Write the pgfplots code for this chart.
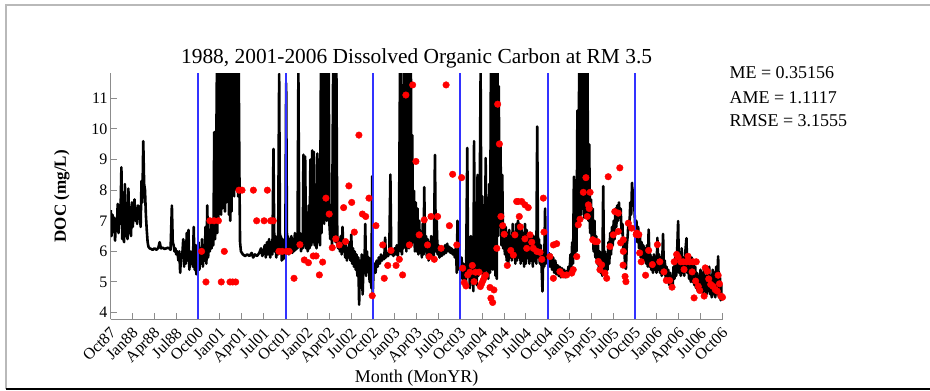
\documentclass[border=0pt]{standalone}
\usepackage{fontspec}
\setmainfont{Liberation Serif}
\usepackage{pgfplots}
\usepackage{pgfplotstable}
\pgfplotsset{compat=1.18}
\definecolor{axgray}{RGB}{140,140,140}
\definecolor{vblue}{RGB}{50,50,255}

% modelled DOC, x in quarter-year ticks (0 = Oct87, 4 = Oct00, 28 = Oct06)
\pgfplotstableread{
x y
0.00 7.35
0.04 6.50
0.08 7.20
0.12 6.80
0.16 7.10
0.20 6.35
0.24 7.00
0.28 6.70
0.32 7.55
0.36 6.60
0.40 7.50
0.44 6.90
0.49 8.75
0.53 6.40
0.57 7.60
0.61 6.30
0.65 8.20
0.69 6.50
0.73 7.30
0.77 6.40
0.81 8.05
0.85 6.60
0.89 7.40
0.93 6.50
0.97 7.60
1.01 6.80
1.05 7.30
1.09 7.70
1.13 7.00
1.17 7.40
1.21 6.90
1.25 7.50
1.29 7.10
1.33 7.40
1.37 6.80
1.41 8.30
1.45 7.60
1.49 9.60
1.53 8.20
1.57 8.00
1.61 7.20
1.65 6.70
1.69 6.30
1.73 6.15
1.78 6.10
1.85 6.08
1.92 6.05
2.00 6.10
2.10 6.05
2.18 6.12
2.24 6.30
2.30 6.10
2.38 6.12
2.46 6.08
2.55 6.10
2.62 6.12
2.68 6.10
2.74 6.05
2.80 7.50
2.84 6.30
2.88 6.20
2.92 6.00
2.96 6.10
3.00 5.90
3.05 6.00
3.10 5.70
3.14 6.00
3.18 5.30
3.22 5.90
3.27 5.80
3.32 6.40
3.36 5.50
3.40 6.30
3.44 5.60
3.48 6.60
3.52 5.70
3.56 6.70
3.60 5.40
3.64 6.00
3.68 5.60
3.72 6.00
3.76 5.50
3.80 6.80
3.84 5.40
3.88 6.20
3.92 5.25
3.96 6.20
4.00 5.60
4.02 6.30
4.06 5.40
4.10 6.10
4.14 5.60
4.18 6.40
4.22 5.50
4.26 6.20
4.30 5.70
4.34 6.80
4.38 5.60
4.42 7.50
4.46 5.80
4.50 6.60
4.54 6.00
4.58 7.00
4.62 6.10
4.66 6.90
4.70 6.20
4.74 9.90
4.78 6.40
4.82 8.30
4.86 11.90
4.88 6.60
4.90 11.90
4.93 7.00
4.96 11.90
4.99 7.30
5.02 11.90
5.05 7.20
5.08 11.90
5.11 7.40
5.14 11.90
5.17 7.50
5.20 11.90
5.23 7.30
5.26 11.90
5.29 7.60
5.32 11.90
5.35 9.00
5.38 11.90
5.41 7.20
5.44 11.90
5.47 7.00
5.50 11.90
5.53 7.30
5.56 11.90
5.59 8.00
5.62 11.90
5.65 7.80
5.68 11.90
5.71 8.50
5.74 11.90
5.77 8.00
5.80 11.90
5.83 7.80
5.86 11.90
5.89 8.60
5.92 6.30
5.96 6.00
6.05 5.90
6.15 5.85
6.25 5.90
6.35 5.85
6.45 5.95
6.52 5.80
6.60 5.90
6.70 5.85
6.80 5.95
6.88 6.10
6.94 5.85
7.00 6.00
7.05 6.20
7.10 5.80
7.15 6.30
7.20 5.90
7.25 6.40
7.30 5.80
7.35 6.30
7.40 5.90
7.45 9.35
7.49 6.00
7.54 6.50
7.58 5.80
7.62 6.40
7.66 5.90
7.71 11.80
7.75 6.00
7.79 6.50
7.83 5.70
7.87 6.40
7.91 5.75
7.95 6.30
7.99 5.80
8.03 11.50
8.07 6.10
8.11 6.50
8.15 5.90
8.19 6.40
8.23 6.00
8.27 6.50
8.31 5.95
8.35 6.40
8.39 6.00
8.43 6.60
8.47 6.05
8.51 6.40
8.55 6.10
8.59 11.90
8.63 6.20
8.67 6.60
8.71 6.00
8.75 6.50
8.79 6.10
8.82 9.16
8.86 6.20
8.90 9.10
8.94 6.10
8.98 6.60
9.02 6.00
9.06 7.50
9.10 6.10
9.14 9.00
9.18 6.20
9.22 9.30
9.26 6.30
9.30 9.25
9.34 6.20
9.38 6.70
9.42 6.10
9.46 9.20
9.50 6.30
9.54 6.80
9.58 6.20
9.62 11.90
9.65 6.60
9.68 11.90
9.71 7.00
9.74 11.90
9.77 6.90
9.80 11.90
9.83 7.20
9.86 11.90
9.89 7.00
9.92 11.90
9.95 7.50
9.98 11.90
10.01 6.90
10.05 6.40
10.09 6.80
10.13 6.20
10.18 11.90
10.21 6.50
10.25 11.90
10.29 6.30
10.33 11.90
10.37 6.30
10.41 6.10
10.45 6.40
10.49 6.00
10.53 6.50
10.57 5.90
10.61 6.80
10.65 6.00
10.69 6.30
10.73 5.80
10.77 6.20
10.81 5.70
10.85 6.10
10.89 5.80
10.93 6.30
10.97 5.70
11.01 6.55
11.05 5.60
11.09 6.10
11.13 5.50
11.17 6.00
11.21 5.40
11.25 5.90
11.29 5.20
11.33 5.80
11.37 4.26
11.41 5.70
11.45 5.20
11.49 5.90
11.53 4.59
11.57 5.60
11.61 5.30
11.65 6.90
11.69 5.20
11.73 6.00
11.77 5.40
11.81 5.80
11.85 5.00
11.89 5.60
11.93 4.80
11.97 8.46
11.99 4.50
12.03 5.40
12.07 5.60
12.12 5.30
12.17 5.70
12.22 5.50
12.27 5.80
12.32 5.60
12.37 5.90
12.42 5.70
12.47 5.85
12.52 5.75
12.56 6.45
12.60 5.80
12.65 5.95
12.70 5.85
12.75 6.00
12.80 8.51
12.84 5.90
12.89 6.05
12.94 5.85
12.99 6.10
13.04 5.90
13.09 6.20
13.14 5.85
13.19 6.20
13.24 11.90
13.27 6.00
13.30 11.90
13.33 5.90
13.36 9.00
13.40 6.10
13.44 11.90
13.47 6.30
13.50 11.90
13.53 6.00
13.56 11.90
13.59 6.40
13.62 11.90
13.65 6.10
13.68 11.90
13.71 6.50
13.74 11.90
13.77 6.20
13.80 9.80
13.84 6.30
13.88 7.98
13.92 6.00
13.96 7.60
14.00 6.00
14.04 7.40
14.08 5.90
14.12 7.00
14.16 5.95
14.20 6.60
14.24 5.80
14.28 6.90
14.32 5.90
14.35 8.10
14.39 6.00
14.43 6.50
14.47 5.80
14.51 6.40
14.55 5.70
14.59 6.30
14.63 5.80
14.67 6.50
14.71 5.90
14.75 6.20
14.79 5.80
14.84 9.15
14.88 6.00
14.92 7.00
14.96 5.90
15.00 6.20
15.05 5.80
15.10 6.15
15.15 5.85
15.20 6.10
15.25 5.90
15.30 6.20
15.35 5.95
15.40 6.25
15.45 6.00
15.50 6.15
15.55 5.95
15.60 6.10
15.65 5.90
15.70 6.05
15.75 5.80
15.80 6.10
15.84 5.30
15.87 7.00
15.90 5.40
15.94 6.00
15.98 5.70
16.02 5.40
16.06 5.80
16.10 5.10
16.14 5.60
16.18 4.90
16.22 5.50
16.26 5.00
16.32 9.38
16.36 5.20
16.40 5.80
16.44 4.80
16.48 6.50
16.52 5.00
16.56 6.00
16.60 4.70
16.63 9.60
16.67 5.10
16.71 7.50
16.75 4.90
16.79 8.50
16.83 5.20
16.88 6.80
16.93 11.90
16.97 5.30
17.01 7.80
17.05 5.00
17.09 6.50
17.13 5.20
17.16 9.05
17.20 5.40
17.24 7.20
17.28 5.10
17.32 8.20
17.36 5.30
17.40 11.90
17.43 5.60
17.46 11.90
17.49 5.40
17.52 11.90
17.55 6.00
17.58 11.90
17.61 5.20
17.64 11.90
17.67 5.10
17.70 11.90
17.73 6.50
17.76 11.40
17.80 6.80
17.84 9.50
17.88 6.20
17.92 8.50
17.96 6.10
18.00 6.90
18.04 5.90
18.08 6.80
18.12 5.70
18.16 6.60
18.20 5.60
18.24 6.70
18.28 5.80
18.32 6.50
18.36 5.70
18.40 6.90
18.44 6.00
18.48 6.60
18.52 5.60
18.56 6.90
18.60 5.70
18.64 7.00
18.68 5.80
18.72 6.90
18.76 5.60
18.80 6.80
18.84 5.70
18.88 6.60
18.92 5.50
18.96 6.90
19.00 5.60
19.04 6.70
19.08 5.80
19.12 6.50
19.16 5.60
19.20 6.60
19.24 5.70
19.28 6.40
19.32 5.50
19.36 6.50
19.40 5.70
19.44 6.30
19.48 5.60
19.52 10.08
19.56 5.80
19.60 6.40
19.64 5.60
19.68 6.20
19.72 5.50
19.76 4.69
19.80 6.00
19.84 5.50
19.88 7.40
19.92 5.60
19.96 6.00
20.00 5.70
20.05 5.95
20.10 5.50
20.15 5.90
20.20 5.40
20.25 5.80
20.30 5.30
20.35 5.70
20.40 5.25
20.45 5.55
20.50 5.20
20.55 5.50
20.60 5.15
20.65 5.45
20.70 5.20
20.75 5.40
20.80 5.15
20.85 5.35
20.90 5.20
20.95 5.50
21.00 5.25
21.04 5.90
21.08 5.40
21.12 6.30
21.16 5.60
21.20 8.44
21.24 5.90
21.28 6.50
21.32 6.00
21.36 10.60
21.40 6.80
21.44 11.90
21.47 7.00
21.50 11.90
21.53 7.20
21.56 9.80
21.60 7.40
21.64 11.90
21.67 7.10
21.70 11.90
21.73 7.20
21.76 11.90
21.79 7.40
21.82 11.90
21.86 7.00
21.90 9.50
21.94 6.60
21.98 7.70
22.02 6.40
22.06 7.40
22.10 6.00
22.14 7.00
22.18 5.80
22.22 6.50
22.26 5.60
22.30 6.20
22.34 5.50
22.38 6.00
22.42 5.30
22.46 5.90
22.50 5.20
22.54 8.13
22.58 5.40
22.62 6.00
22.66 5.20
22.70 5.90
22.74 5.40
22.78 6.30
22.82 5.60
22.86 6.60
22.90 5.90
22.94 6.80
22.98 6.20
23.02 7.00
23.06 6.40
23.10 7.40
23.14 6.80
23.18 7.50
23.22 7.00
23.26 7.60
23.30 7.10
23.34 7.40
23.38 6.60
23.42 6.90
23.46 6.00
23.50 6.40
23.54 5.50
23.58 5.43
23.62 6.20
23.66 6.50
23.70 7.00
23.74 6.80
23.78 7.60
23.82 7.20
23.86 8.24
23.90 7.50
23.94 8.00
23.98 7.20
24.02 6.60
24.06 7.00
24.10 6.30
24.14 6.80
24.18 6.10
24.22 6.50
24.26 5.80
24.30 6.30
24.34 5.60
24.38 6.20
24.42 5.70
24.46 6.10
24.50 5.60
24.54 6.20
24.58 5.50
24.62 6.71
24.66 5.50
24.70 5.90
24.74 5.40
24.78 5.80
24.82 5.30
24.86 5.90
24.90 5.40
24.94 5.80
24.98 5.30
25.02 6.44
25.06 5.40
25.10 5.90
25.14 5.30
25.18 5.80
25.22 5.20
25.28 6.57
25.32 5.30
25.36 5.70
25.40 5.10
25.44 5.50
25.48 5.00
25.52 5.40
25.56 4.90
25.60 5.30
25.64 4.80
25.68 5.20
25.72 4.90
25.76 5.50
25.80 5.10
25.84 5.80
25.88 5.20
25.92 5.90
25.97 6.99
26.01 5.30
26.05 5.90
26.09 5.20
26.13 6.10
26.17 5.30
26.21 5.80
26.25 5.20
26.29 5.90
26.35 6.43
26.39 5.30
26.43 5.80
26.47 5.10
26.51 5.70
26.55 5.00
26.59 5.80
26.63 5.00
26.67 5.60
26.71 4.90
26.75 5.50
26.79 4.80
26.83 5.30
26.87 4.70
26.91 5.20
26.95 4.80
26.99 5.40
27.03 4.70
27.07 5.30
27.11 4.60
27.15 5.40
27.19 4.70
27.23 5.20
27.27 4.60
27.31 5.30
27.35 4.70
27.39 5.50
27.43 4.60
27.47 5.20
27.51 4.50
27.55 5.40
27.59 4.60
27.63 5.30
27.67 4.50
27.71 5.50
27.75 4.60
27.80 5.84
27.84 4.50
27.88 5.20
27.92 4.40
27.96 4.90
28.00 4.50
}\docmodel

% observed DOC samples
\pgfplotstableread{
x y
4.16 6
4.36 5
4.54 7
4.73 7
4.93 7
5.06 5
5.20 6
5.46 5
5.58 5
5.72 5
5.87 8
6.01 8
6.53 8
6.68 7
7.02 7
7.17 8
7.32 7
7.44 7
7.70 6
7.85 6
8.05 6
8.17 6
8.39 5.12
8.66 6.22
8.86 5.72
9.05 5.63
9.27 5.85
9.40 5.85
9.55 5.23
9.70 5.65
9.85 7.74
10.00 7.22
10.14 6.12
10.30 6.41
10.46 6.21
10.66 7.43
10.75 6.32
10.90 8.14
11.03 7.60
11.15 6.63
11.36 9.80
11.52 7.22
11.67 7.14
11.82 7.74
11.97 4.55
12.14 6.84
12.45 6.21
12.52 5.12
12.68 5.54
12.83 6.03
13.06 5.54
13.21 5.74
13.36 5.23
13.51 11.11
13.67 6.21
13.82 11.44
13.97 8.94
14.12 6.54
14.35 7.03
14.50 6.21
14.58 5.83
14.66 7.14
14.81 5.74
14.96 7.14
15.12 6.10
15.35 11.44
15.50 6.84
15.65 8.52
15.84 6.21
16.06 8.41
16.11 5.45
16.18 4.98
16.26 4.87
16.34 5.23
16.44 5.32
16.55 5.54
16.63 5.01
16.70 5.32
16.86 5.32
16.92 4.85
16.98 4.95
17.04 5.05
17.10 5.15
17.16 5.22
17.36 4.82
17.40 4.47
17.48 4.33
17.54 4.74
17.67 6.10
17.71 10.81
17.79 9.51
17.86 7.14
17.94 6.84
18.01 6.56
18.15 5.54
18.31 6.03
18.43 5.88
18.50 6.54
18.58 7.63
18.65 7.63
18.70 7.14
18.75 6.80
18.81 7.63
18.96 7.52
18.96 6.41
19.04 6.10
19.11 7.43
19.19 6.54
19.27 6.30
19.34 6.10
19.50 6.00
19.65 5.97
19.73 5.74
19.80 7.74
19.83 6.63
20.10 5.83
20.26 6.21
20.26 5.12
20.41 6.25
20.56 5.34
20.71 5.23
20.87 5.23
21.10 5.29
21.17 5.40
21.33 5.83
21.40 6.87
21.48 7.05
21.63 7.93
21.75 8.41
21.81 7.14
21.86 7.52
21.90 7.40
21.94 7.93
22.06 6.38
22.16 6.32
22.27 6.32
22.32 5.67
22.39 5.40
22.47 5.56
22.62 5.29
22.70 5.12
22.77 8.44
22.85 6.16
23.00 6.54
23.07 7.30
23.23 6.65
23.23 7.25
23.30 8.73
23.34 6.28
23.45 5.55
23.46 6.38
23.46 6.00
23.54 5.18
23.58 5.01
23.69 6.92
23.84 6.76
24.05 6.55
24.07 6.60
24.15 6.54
24.17 6.55
24.21 5.95
24.28 5.66
24.48 5.22
24.62 6.03
24.79 5.57
25.02 6.22
25.13 5.66
25.32 5.33
25.43 5.05
25.58 5.05
25.69 4.83
25.79 5.66
25.90 5.90
25.97 5.81
26.09 5.66
26.20 5.66
26.24 5.41
26.35 5.66
26.42 5.84
26.50 5.66
26.61 5.33
26.65 5.66
26.70 4.48
26.77 5.03
26.80 5.66
26.89 4.86
26.96 4.72
27.16 4.54
27.21 5.46
27.30 5.35
27.37 5.10
27.46 4.92
27.56 4.86
27.67 4.75
27.76 4.70
27.80 5.22
27.86 4.94
27.93 4.54
28.00 4.50
}\docobs

\begin{document}
\begin{tikzpicture}
\path[use as bounding box] (-110.7pt,-71.7pt) rectangle (819.3pt,319.3pt);
% frame of the figure
\draw[gray!55, line width=1.2pt] (-104.7pt,-69.7pt) -- (-104.7pt,314.3pt) -- (824pt,314.3pt);
\draw[black, line width=1.6pt] (-104.7pt,-69.7pt) -- (824pt,-69.7pt);

\begin{axis}[
    scale only axis,
    width=611.8pt, height=246pt,
    xmin=0, xmax=28,
    ymin=3.78, ymax=11.82,
    axis x line*=bottom, axis y line*=left,
    axis line style={-, axgray, line width=1.3pt},
    tick align=inside,
    major tick length=6pt,
    tick style={axgray, line width=1pt},
    xtick={0,...,28},
    xticklabels={Oct87,Jan88,Apr88,Jul88,Oct00,Jan01,Apr01,Jul01,Oct01,Jan02,Apr02,Jul02,Oct02,Jan03,Apr03,Jul03,Oct03,Jan04,Apr04,Jul04,Oct04,Jan05,Apr05,Jul05,Oct05,Jan06,Apr06,Jul06,Oct06},
    ytick={4,...,11},
    /pgf/number format/assume math mode=true,
    tick label style={font=\fontsize{16}{16}\selectfont},
    xticklabel style={rotate=45, anchor=north east, inner sep=0pt, yshift=-4pt, xshift=-6pt},
    yticklabel style={inner sep=3pt},
]
\addplot[black, line width=2.6pt, line join=round] table {\docmodel};
% water-year boundaries
\addplot[vblue, line width=2pt] coordinates {(4,3.78) (4,11.82)};
\addplot[vblue, line width=2pt] coordinates {(8,3.78) (8,11.82)};
\addplot[vblue, line width=2pt] coordinates {(12,3.78) (12,11.82)};
\addplot[vblue, line width=2pt] coordinates {(16,3.78) (16,11.82)};
\addplot[vblue, line width=2pt] coordinates {(20,3.78) (20,11.82)};
\addplot[vblue, line width=2pt] coordinates {(24,3.78) (24,11.82)};
\addplot[only marks, mark=*, mark size=3.3pt, red, mark options={draw=red, fill=red}] table {\docobs};
\end{axis}

\node[anchor=base, font=\fontsize{21.4}{21.4}\selectfont] at (305.9pt,256pt)
  {1988, 2001-2006 Dissolved Organic Carbon at RM 3.5};
\node[anchor=base, font=\fontsize{18}{18}\selectfont] at (305.9pt,-63.4pt) {Month (MonYR)};
\node[anchor=base, rotate=90, font=\fontsize{17}{17}\selectfont\bfseries] at (-44.7pt,123pt) {DOC (mg/L)};
\node[anchor=base west, font=\fontsize{18}{18}\selectfont] at (615.3pt,241pt) {ME = 0.35156};
\node[anchor=base west, font=\fontsize{18}{18}\selectfont] at (615.3pt,216pt) {AME = 1.1117};
\node[anchor=base west, font=\fontsize{18}{18}\selectfont] at (615.3pt,192.6pt) {RMSE = 3.1555};
\end{tikzpicture}
\end{document}
